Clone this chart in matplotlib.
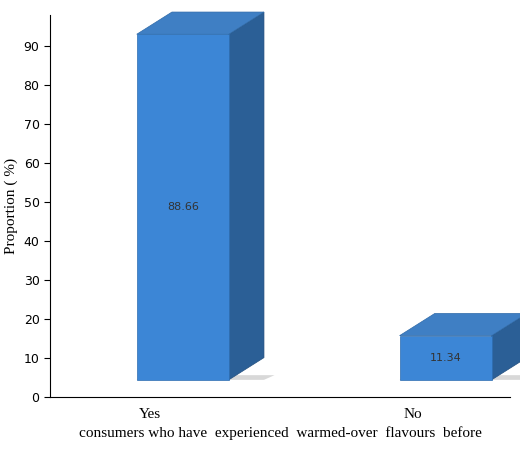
import matplotlib.pyplot as plt
from matplotlib.patches import Polygon

categories = ['Yes', 'No']
values = [88.66, 11.34]
labels = ['88.66', '11.34']

fig = plt.figure(figsize=(5.2, 4.51), dpi=100)
ax = fig.add_axes([50/520, 54/451, 460/520, 382/451])
ax.set_xlim(-0.38, 1.37)
ax.set_ylim(0, 98)

floor = 4.4      # front face starts above the baseline (3D floor)
w = 0.35         # front width
dx, dy = 0.134, 5.7   # depth offset

for i, v in enumerate(values):
    x0 = i - 0.05
    x1 = x0 + w
    y0, y1 = floor, floor + v
    polys = [
        ([(x0, y0), (x1 + dx, y0), (x1 + dx * 1.3, y0 + 1.2), (x0 + 0.02, y0 + 1.2)], '#d8d8d8', 'none', 1),
        ([(x1, y0), (x1 + dx, y0 + dy), (x1 + dx, y1 + dy), (x1, y1)], '#2b5f96', '#234f7e', 2),
        ([(x0, y1), (x0 + dx, y1 + dy), (x1 + dx, y1 + dy), (x1, y1)], '#3f7fc4', '#2f6aa8', 2),
        ([(x0, y0), (x1, y0), (x1, y1), (x0, y1)], '#3c86d6', '#2e6db0', 3),
    ]
    for pts, fc, ec, z in polys:
        ax.add_patch(Polygon(pts, closed=True, fc=fc, ec=ec, lw=0.5, zorder=z, clip_on=False))
    ax.text((x0 + x1) / 2, y0 + v / 2, labels[i], ha='center', va='center',
            fontsize=8, color='#333333', family='DejaVu Sans', zorder=4)

ax.set_xticks(range(len(categories)))
ax.set_xticklabels(categories, family='Liberation Serif', fontsize=11)
ax.tick_params(axis='x', length=0, pad=8)
ax.set_yticks(range(0, 91, 10))
ax.tick_params(axis='y', labelsize=9, direction='out', length=4)
ax.set_ylabel('Proportion ( %)', family='Liberation Serif', fontsize=11)
ax.set_xlabel('consumers who have  experienced  warmed-over  flavours  before',
              family='Liberation Serif', fontsize=11, labelpad=4)
for s in ['top', 'right']:
    ax.spines[s].set_visible(False)

fig.savefig('out.png', dpi=100)
